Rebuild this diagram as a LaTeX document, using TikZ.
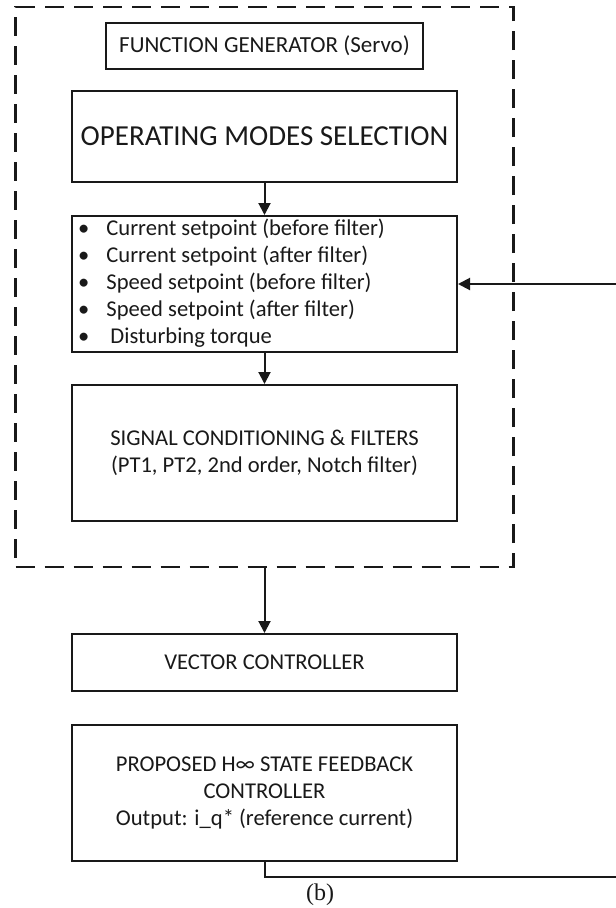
\documentclass[tikz,border=0pt]{standalone}
\usepackage{fontspec}
\setmainfont{Carlito}
\newfontfamily\capfont{Liberation Serif}
\usetikzlibrary{arrows.meta}

\begin{document}
\begin{tikzpicture}[
    x=1pt, y=-1pt,
    box/.style={rectangle, draw=black!90, line width=2pt, minimum width=385pt, align=center, inner sep=0pt, text=black!90, font=\fontsize{22.6}{27}\selectfont},
    groupbox/.style={rectangle, draw=black!90, line width=2.6pt, dash pattern=on 19pt off 10pt},
    conn/.style={draw=black!90, line width=2pt, -{Triangle[length=12pt, width=12pt]}},
    lbl/.style={text=black!90, inner sep=0pt}
]
    \useasboundingbox (0,0) rectangle (616,908);

    % Servo function generator (dashed group)
    \node (group) at (264.5, 287) [groupbox, minimum width=498pt, minimum height=560pt] {};
    \node (fgen) at (264.5, 46) [box, minimum width=317pt, minimum height=46pt, font=\fontsize{23}{27}\selectfont] {FUNCTION GENERATOR (Servo)};
    \node (modes) at (264.5, 136.5) [box, minimum height=91pt, font=\fontsize{29}{34}\selectfont] {OPERATING MODES SELECTION};
    \node (lst) at (264.5, 284) [box, minimum height=136pt] {};
    \node (lsttxt) at (78, 284) [lbl, anchor=west, font=\fontsize{22.6}{27}\selectfont] {%
        \begin{tabular}{@{}l@{\hspace{17pt}}l@{}}
        \textbullet & Current setpoint (before filter)\\
        \textbullet & Current setpoint (after filter)\\
        \textbullet & Speed setpoint (before filter)\\
        \textbullet & Speed setpoint (after filter)\\
        \textbullet & \hspace{4pt}Disturbing torque
        \end{tabular}};
    \node (sig) at (264.5, 453) [box, minimum height=136pt] {SIGNAL CONDITIONING \& FILTERS\\(PT1, PT2, 2nd order, Notch filter)};

    % Controllers below the group
    \node (vec) at (264.5, 662.5) [box, minimum height=57pt] {VECTOR CONTROLLER};
    \node (hinf) at (264.5, 793) [box, minimum height=136pt] {PROPOSED H∞ STATE FEEDBACK\\CONTROLLER\\Output: i\_q* (reference current)};
    \node (cap) at (320, 895) [lbl, font=\capfont\fontsize{24}{28}\selectfont] {(b)};

    % Signal flow
    \draw [conn] (modes.south) -- (lst.north);
    \draw [conn] (lst.south) -- (sig.north);
    \draw [conn] (group.south) -- (vec.north);

    % Feedback of reference current
    \coordinate (fbturn) at (622, 877);
    \draw [conn] (hinf.south) |- (fbturn) |- (lst.east);

\end{tikzpicture}
\end{document}
